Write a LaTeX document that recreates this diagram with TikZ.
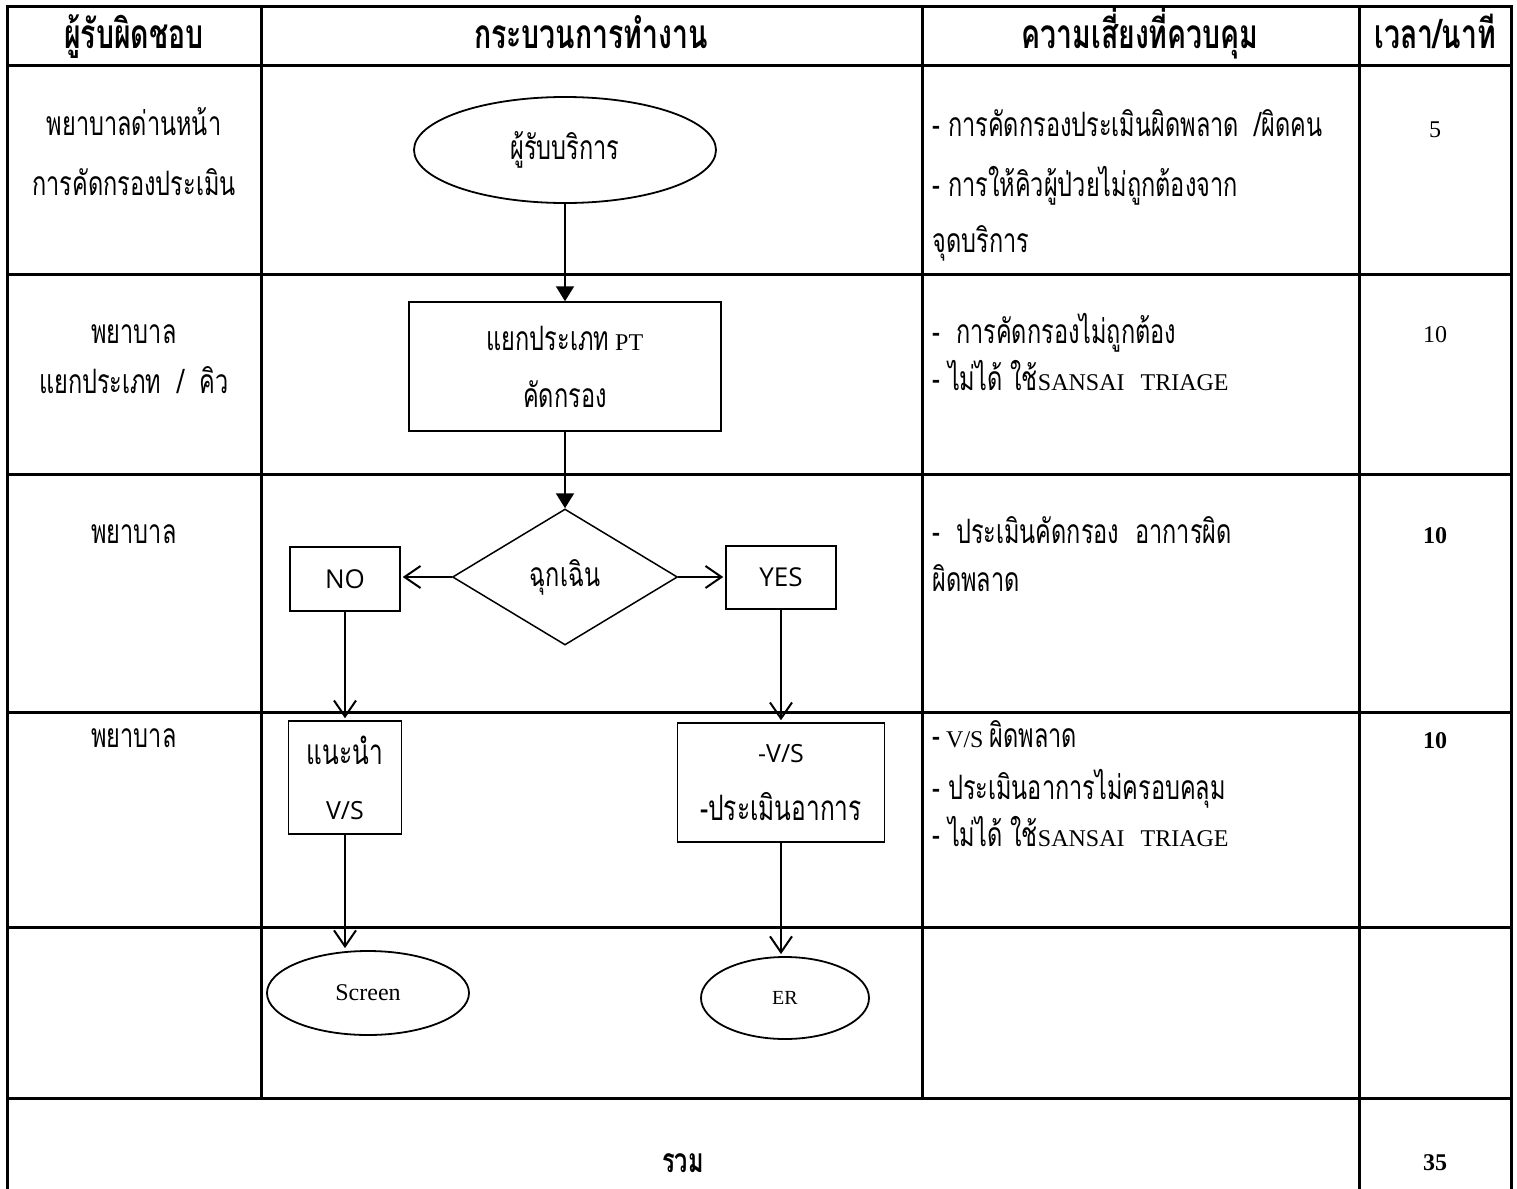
\documentclass[tikz,border=0pt]{standalone}
\usepackage{fontspec}
\setmainfont{Liberation Serif}
\newfontfamily\thaifont[Script=Thai,Scale=1.4,FakeStretch=0.7]{Loma}
\newfontfamily\osans{Open Sans}
\newcommand\tx[1]{{\thaifont #1}}
\usetikzlibrary{shapes.geometric,arrows.meta}
\tikzset{
  tline/.style={line width=1.5pt, line cap=rect},
  box/.style={draw, line width=0.75pt, rectangle, inner sep=0pt, align=center},
  oval/.style={draw, line width=0.9pt, ellipse, inner sep=0pt, align=center},
  dec/.style={draw, line width=0.75pt, diamond, inner sep=0pt, align=center},
  farrow/.style={line width=1pt, -{Triangle[length=7.5pt,width=9pt]}},
  oarrow/.style={line width=1pt, shorten >=1pt, -{Straight Barb[length=8pt,width=11pt,line width=1pt]}},
  ctext/.style={inner sep=0pt, anchor=base},
  ltext/.style={inner sep=0pt, anchor=base west},
  hdr/.style={inner sep=0pt, anchor=base, font=\fontsize{14.5pt}{16pt}\selectfont\bfseries},
}
\begin{document}
\begin{tikzpicture}[x=0.5pt,y=-0.5pt,font=\fontsize{12pt}{14pt}\selectfont]
\useasboundingbox (0,0) rectangle (1517,1189);

% table grid
\draw[tline] (7,1189) -- (7,6) -- (1511,6) -- (1511,1189);
\foreach \yy in {65,274,474,712,927,1098} \draw[tline] (7,\yy) -- (1511,\yy);
\draw[tline] (261,6) -- (261,1098);
\draw[tline] (922,6) -- (922,1098);
\draw[tline] (1359,6) -- (1359,1189);

% header
\node[hdr] (h1) at (134,48) {\tx{ผู้รับผิดชอบ}};
\node[hdr] (h2) at (591,48) {\tx{กระบวนการทำงาน}};
\node[hdr] (h3) at (1140,48) {\tx{ความเสี่ยงที่ควบคุม}};
\node[hdr] (h4) at (1435,48) {\tx{เวลา/นาที}};

% responsible column
\node[ctext] (r1a) at (134,135) {\tx{พยาบาลด่านหน้า}};
\node[ctext] (r1b) at (134,195) {\tx{การคัดกรองประเมิน}};
\node[ctext] (r2a) at (134,343) {\tx{พยาบาล}};
\node[ctext] (r2b) at (134,393) {\tx{แยกประเภท\ \ /\ \ คิว}};
\node[ctext] (r3a) at (134,543) {\tx{พยาบาล}};
\node[ctext] (r4a) at (134,747) {\tx{พยาบาล}};

% risk column
\node[ltext] (k1a) at (932,136) {\tx{- การคัดกรองประเมินผิดพลาด\ \ /ผิดคน}};
\node[ltext] (k1b) at (932,196) {\tx{- การให้คิวผู้ป่วยไม่ถูกต้องจาก}};
\node[ltext] (k1c) at (932,252) {\tx{จุดบริการ}};
\node[ltext] (k2a) at (932,343) {\tx{-\ \ การคัดกรองไม่ถูกต้อง}};
\node[ltext] (k2b) at (932,390) {\tx{- ไม่ได้ ใช้}SANSAI\hspace{8pt}TRIAGE};
\node[ltext] (k3a) at (932,543) {\tx{-\ \ ประเมินคัดกรอง\ \ อาการผิด}};
\node[ltext] (k3b) at (932,591) {\tx{ผิดพลาด}};
\node[ltext] (k4a) at (932,747) {\tx{-} V/S \tx{ผิดพลาด}};
\node[ltext] (k4b) at (932,799) {\tx{- ประเมินอาการไม่ครอบคลุม}};
\node[ltext] (k4c) at (932,846) {\tx{- ไม่ได้ ใช้}SANSAI\hspace{8pt}TRIAGE};

% time column
\node[ctext] (t1) at (1435,137) {5};
\node[ctext] (t2) at (1435,342) {10};
\node[ctext] (t3) at (1435,543) {\bfseries 10};
\node[ctext] (t4) at (1435,748) {\bfseries 10};
\node[ctext] (t5) at (1435,1170) {\bfseries 35};
\node[ctext] (sum) at (683,1172) {\bfseries\tx{รวม}};

% flowchart
\node[oval, minimum width=151pt, minimum height=53pt] (svc) at (565,150) {\tx{ผู้รับบริการ}};
\node[box, minimum width=156pt, minimum height=64.5pt, font=\fontsize{12pt}{28.5pt}\selectfont] (sort) at (565,366.5) {\tx{แยกประเภท} PT\\\tx{คัดกรอง}};
\node[dec, minimum width=112.5pt, minimum height=68pt] (emg) at (565,577) {\tx{ฉุกเฉิน}};
\node[box, minimum width=55pt, minimum height=32pt, font=\osans\fontsize{13pt}{15pt}\selectfont] (no) at (345,579) {NO};
\node[box, minimum width=55pt, minimum height=31.5pt, font=\osans\fontsize{13pt}{15pt}\selectfont] (yes) at (781,577.5) {YES};
\node[box, minimum width=56.5pt, minimum height=56.5pt, font=\fontsize{12.5pt}{27.5pt}\selectfont] (adv) at (345,777.5) {\tx{แนะนำ}\\{\osans V/S}};
\node[box, minimum width=103.5pt, minimum height=59.5pt, font=\fontsize{12.5pt}{29pt}\selectfont] (vs) at (781,782.5) {{\osans -V/S}\\\tx{-ประเมินอาการ}};
\node[oval, minimum width=101pt, minimum height=42pt] (scr) at (368,993) {Screen};
\node[oval, minimum width=84pt, minimum height=41pt, font=\fontsize{10pt}{12pt}\selectfont] (er) at (785,998) {ER};

\draw[farrow] (svc.south) -- (sort.north);
\draw[farrow] (sort.south) -- (emg.north);
\draw[oarrow] (emg.west) -- (emg.west -| no.east);
\draw[oarrow] (emg.east) -- (emg.east -| yes.west);
\draw[oarrow] (no.south) -- (adv.north);
\draw[oarrow] (yes.south) -- (vs.north);
\draw[oarrow] (adv.south) -- (adv.south |- scr.north);
\draw[oarrow] (vs.south) -- (vs.south |- er.north);
\end{tikzpicture}
\end{document}
